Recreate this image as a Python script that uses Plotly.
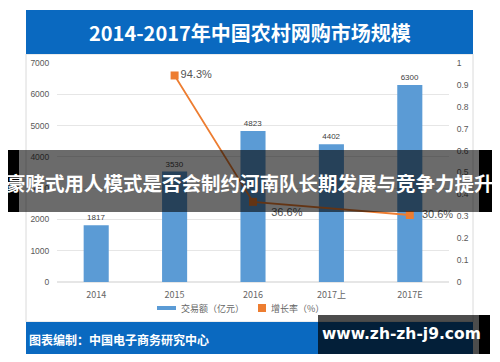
import plotly.graph_objects as go

categories = ["2014", "2015", "2016", "2017上", "2017E"]
volume = [1817, 3530, 4823, 4402, 6300]
growth = [None, 0.943, 0.366, None, 0.306]
growth_labels = ["", "94.3%", "\u00a0\u00a0\u00a0\u00a036.6%", "", "\u00a0\u00a030.6%"]
left_ticks = [0, 1000, 2000, 3000, 4000, 5000, 6000, 7000]
right_ticks = [0, 0.1, 0.2, 0.3, 0.4, 0.5, 0.6, 0.7, 0.8, 0.9, 1]
right_tick_text = ["0", "0.1", "0.2", "0.3", "0.4", "0.5", "0.6", "0.7", "0.8", "0.9", "1"]

title_text = "2014-2017年中国农村网购市场规模"
banner_text = "豪赌式用人模式是否会制约河南队长期发展与竞争力提升"
source_text = "图表编制：中国电子商务研究中心"
watermark_text = "www.zh-zh-j9.com"
legend_bar = "交易额（亿元）"
legend_line = "增长率（%）"

W, H = 500, 362
OX, OY = 8, 8          # page body margin offset
PL, PR, PT, PB = 57, 449, 63, 282   # plot area in screen pixels

def px(x):
    return (x - PL) / (PR - PL)

def py(y):
    return (PB - y) / (PB - PT)

CJK = "Noto Sans CJK SC"
SANS = "Liberation Sans, Arial, sans-serif"
BLUE = "#0A69C0"
BAR = "#5B9BD5"
ORANGE = "#ED7D31"

fig = go.Figure()
fig.add_trace(go.Bar(
    x=categories, y=volume, yaxis="y", width=0.32,
    marker=dict(color=BAR, line=dict(width=0)),
    text=[str(v) for v in volume], textposition="outside",
    textfont=dict(size=8, color="#404040", family=SANS),
    cliponaxis=False, showlegend=False,
))
fig.add_trace(go.Scatter(
    x=categories, y=growth, yaxis="y2", connectgaps=True,
    mode="lines+markers+text",
    line=dict(color=ORANGE, width=1.8),
    marker=dict(symbol="square", size=8, color=ORANGE),
    text=growth_labels,
    textposition=["middle right", "middle right", "bottom right", "middle right", "middle right"],
    textfont=dict(size=11, color="#555555", family=SANS),
    cliponaxis=False, showlegend=False,
))

def rect(x0, y0, x1, y1, fill, line=None, layer="below"):
    return dict(type="rect", xref="paper", yref="paper",
                x0=px(x0), x1=px(x1), y0=py(y1), y1=py(y0),
                fillcolor=fill, layer=layer,
                line=dict(width=0) if line is None else dict(color=line, width=1))

shapes = [
    rect(26, 54, 473, 322, "white", line="#DADADA"),
    rect(26, 10, 473, 54, BLUE),
    rect(26, 322, 473, 354, BLUE),
    # legend symbols
    rect(157, 306, 176, 310, BAR),
    rect(258, 304, 266, 312, ORANGE),
    # dark banner overlay
    rect(19, 150, 479, 212, "rgba(0,0,0,0.58)", layer="above"),
    rect(-10, 150, 19, 212, "black", layer="above"),
    rect(479, 150, 510, 212, "black", layer="above"),
    # watermark box
    rect(318, 315, 479, 354, "rgba(0,0,0,0.7)", layer="above"),
    rect(479, 315, 490, 354, "black", layer="above"),
]

def ann(text, x, y, size, color, family=CJK, xanchor="center", bold=False):
    return dict(text=f"<b>{text}</b>" if bold else text, x=px(x), y=py(y),
                xref="paper", yref="paper", xanchor=xanchor, yanchor="middle",
                showarrow=False, font=dict(size=size, color=color, family=family))

annotations = [
    ann(title_text, 250, 33, 20, "white", bold=True),
    ann(legend_bar, 179, 308, 9, "#666666", xanchor="left"),
    ann(legend_line, 269, 308, 9, "#666666", xanchor="left"),
    ann(source_text, 27, 339, 12, "white", xanchor="left", bold=True),
    ann(banner_text, 250, 182, 19.5, "white", bold=True),
    ann(watermark_text, 401, 334, 15.5, "white", family="DejaVu Sans, Arial, sans-serif", bold=True),
]

fig.update_layout(
    width=W, height=H,
    margin=dict(l=PL - OX, r=W - (PR - OX), t=PT - OY, b=H - (PB - OY), pad=0),
    paper_bgcolor="white", plot_bgcolor="rgba(0,0,0,0)",
    bargap=0.68,
    xaxis=dict(type="category", showgrid=False, showline=False, zeroline=False,
               ticks="outside", ticklen=4, tickcolor="rgba(0,0,0,0)",
               tickfont=dict(size=9, color="#666666", family=CJK)),
    yaxis=dict(range=[0, 7000], tickvals=left_ticks, showgrid=True,
               gridcolor="#E6E6E6", gridwidth=1, zeroline=True, zerolinecolor="#E6E6E6",
               showline=False, ticks="outside", ticklen=5, tickcolor="rgba(0,0,0,0)",
               tickfont=dict(size=8.5, color="#595959", family=SANS)),
    yaxis2=dict(range=[0, 1], tickvals=right_ticks, ticktext=right_tick_text,
                overlaying="y", side="right", showgrid=False, zeroline=False,
                showline=False, ticks="outside", ticklen=5, tickcolor="rgba(0,0,0,0)",
                tickfont=dict(size=8.5, color="#595959", family=SANS)),
    shapes=shapes, annotations=annotations,
)

fig.write_html("out.html")
